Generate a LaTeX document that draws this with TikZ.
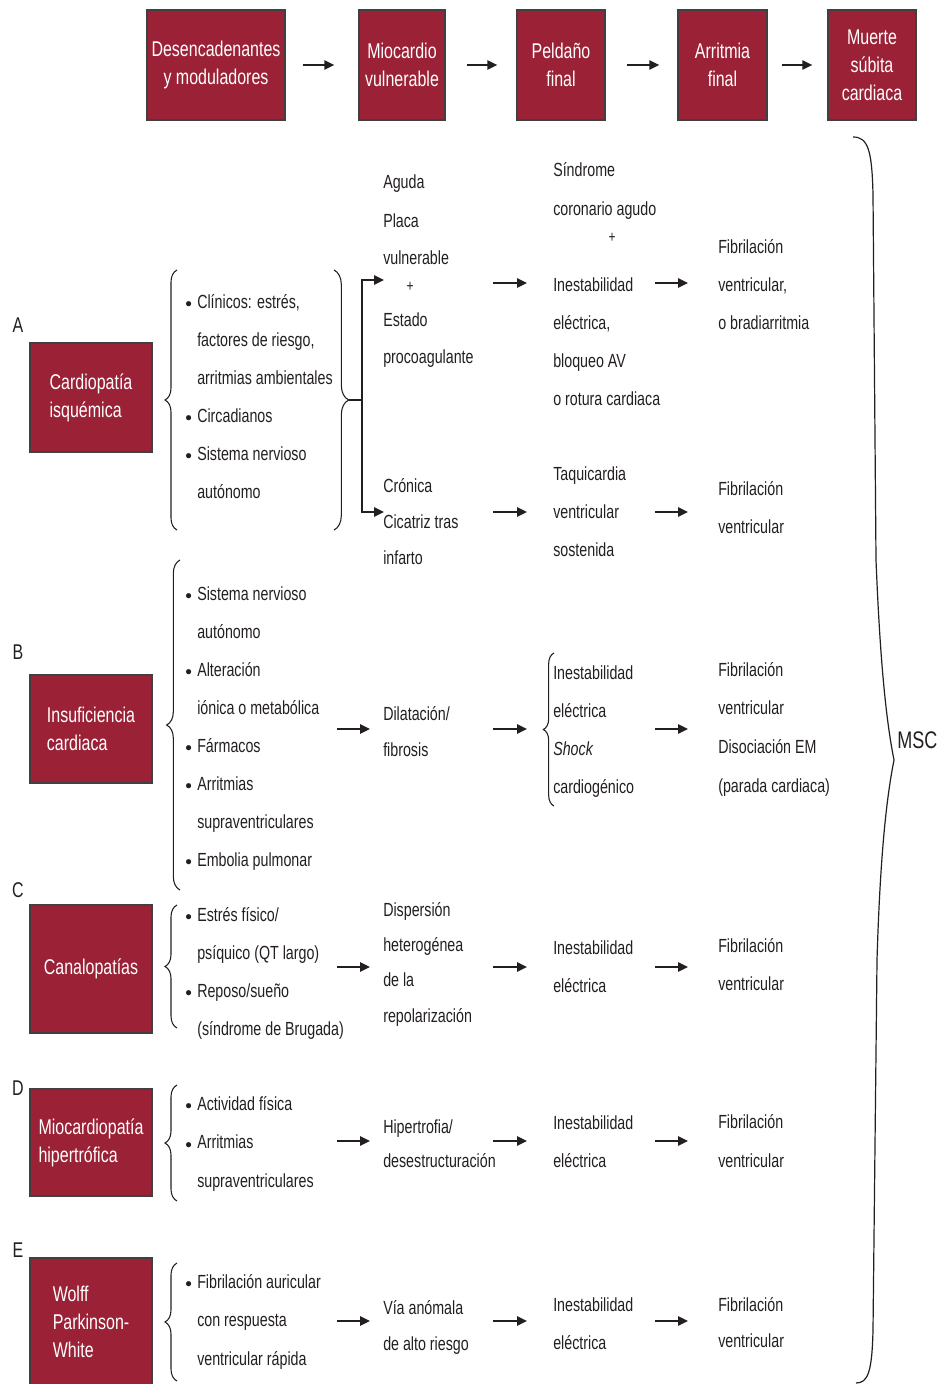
\documentclass[tikz,border=0pt]{standalone}
\usepackage{fontspec}
\setmainfont{Liberation Sans}[FakeStretch=0.75]
\usetikzlibrary{arrows.meta,decorations.pathreplacing}
\definecolor{boxred}{RGB}{155,34,54}
\definecolor{ink}{RGB}{35,31,32}
\newcommand\Lines[2][28.5pt]{{\fontsize{14.25pt}{#1}\selectfont\begin{tabular}[t]{@{}l@{}}#2\end{tabular}}}
\newcommand\Blist[2][28.5pt]{{\fontsize{14.25pt}{#1}\selectfont\begin{tabular}[t]{@{}p{9pt}@{}l@{}}#2\end{tabular}}}
\newcommand\bul{\raisebox{0.3pt}{\fontsize{10pt}{10pt}\selectfont$\bullet$}}
\begin{document}
\begin{tikzpicture}[x=0.75pt,y=-0.75pt,
  txt/.style={anchor=base west,inner sep=0pt,text=ink},
  plus/.style={inner sep=0pt,text=ink,font=\fontsize{12pt}{12pt}\selectfont},
  hbox/.style={draw=black!75,line width=1pt,fill=boxred,text=white,inner sep=0pt,
    align=center,minimum height=82.5pt,font=\fontsize{16pt}{21pt}\selectfont},
  sbox/.style={draw=black!75,line width=1pt,fill=boxred,text=white,inner sep=0pt,
    align=left,minimum width=91.5pt,font=\fontsize{16pt}{21pt}\selectfont},
  letter/.style={inner sep=0pt,text=ink,font=\fontsize{16pt}{16pt}\selectfont},
  arr/.style={draw=ink,line width=1.2pt,-{Triangle[length=7.5pt,width=7pt]}},
  brc/.style={draw=ink,line width=0.8pt,decorate,decoration={brace,amplitude=#1}},
  brc/.default=10pt]
\useasboundingbox (0,0) rectangle (943,1384);

% ---------- header ----------
\node[hbox,minimum width=103.5pt] (h1) at (216,65) {Desencadenantes\\y moduladores};
\node[hbox,minimum width=64.5pt] (h2) at (402,65) {Miocardio\\vulnerable};
\node[hbox,minimum width=66pt] (h3) at (561,65) {Peldaño\\final};
\node[hbox,minimum width=66.75pt] (h4) at (722.5,65) {Arritmia\\final};
\node[hbox,minimum width=66pt] (h5) at (872,65) {Muerte\\súbita\\cardiaca};
\draw[arr] ([xshift=12.75pt]h1.east) -- ([xshift=-18pt]h2.west);
\draw[arr] ([xshift=15.75pt]h2.east) -- ([xshift=-14.25pt]h3.west);
\draw[arr] ([xshift=15.75pt]h3.east) -- ([xshift=-13.5pt]h4.west);
\draw[arr] ([xshift=10.5pt]h4.east) -- ([xshift=-11.25pt]h5.west);

% ---------- side boxes ----------
\node[letter] (lA) at (18,325) {A};
\node[letter] (lB) at (18,652) {B};
\node[letter] (lC) at (18,890) {C};
\node[letter] (lD) at (18,1088) {D};
\node[letter] (lE) at (18,1250) {E};
\node[sbox,minimum height=81.75pt] (bA) at (91,397.5) {Cardiopatía\\isquémica};
\node[sbox,minimum height=81pt] (bB) at (91,729) {Insuficiencia\\cardiaca};
\node[sbox,minimum height=96pt] (bC) at (91,969) {Canalopatías};
\node[sbox,minimum height=80.25pt] (bD) at (91,1142.5) {Miocardiopatía\\hipertrófica};
\node[sbox,minimum height=96pt] (bE) at (91,1322) {Wolff\\Parkinson-\\White};

% ---------- A ----------
\node[txt] (a1) at (185,308) {\Blist{\bul & Clínicos: estrés,\\ & factores de riesgo,\\ & arritmias ambientales\\ \bul & Circadianos\\ \bul & Sistema nervioso\\ & autónomo}};
\draw[brc=9pt] (177,530) -- (177,270);
\draw[brc=11pt] (334,270) -- (334,530);
\node[txt] (a2a) at (383,189) {\Lines{Aguda\\Placa\\vulnerable}};
\node[plus] (a2p) at (410,287) {+};
\node[txt] (a2b) at (383,326) {\Lines[27.75pt]{Estado\\procoagulante}};
\node[txt] (a2c) at (383,492) {\Lines[27pt]{Crónica\\Cicatriz tras\\infarto}};
\node[txt] (a3a) at (553,176) {\Lines[29.25pt]{Síndrome\\coronario agudo}};
\node[plus] (a3p) at (612,238) {+};
\node[txt] (a3b) at (553,291) {\Lines{Inestabilidad\\eléctrica,\\bloqueo AV\\o rotura cardiaca}};
\node[txt] (a3c) at (553,480) {\Lines{Taquicardia\\ventricular\\sostenida}};
\node[txt] (a4a) at (718,253) {\Lines{Fibrilación\\ventricular,\\o bradiarritmia}};
\node[txt] (a4b) at (718,495) {\Lines{Fibrilación\\ventricular}};
\coordinate (atip) at (349,400);
\coordinate (ajn) at (362,400);
\coordinate (aj1) at (362,280);
\coordinate (aj2) at (362,512);
\coordinate (ae1) at (384,280);
\coordinate (ae2) at (384,512);
\draw[draw=ink,line width=1.2pt] (atip) -- (ajn);
\draw[arr] (ajn) -- (aj1) -- (ae1);
\draw[arr] (ajn) -- (aj2) -- (ae2);

% ---------- B ----------
\node[txt] (b1) at (185,600) {\Blist{\bul & Sistema nervioso\\ & autónomo\\ \bul & Alteración\\ & iónica o metabólica\\ \bul & Fármacos\\ \bul & Arritmias\\ & supraventriculares\\ \bul & Embolia pulmonar}};
\draw[brc=10pt] (180,890) -- (180,560);
\node[txt] (b2) at (383,720) {\Lines[27pt]{Dilatación/\\fibrosis}};
\node[txt] (b3) at (553,679) {\Lines{Inestabilidad\\eléctrica\\\textit{Shock}\\cardiogénico}};
\draw[brc=8pt] (554,806) -- (554,653);
\node[txt] (b4) at (718,676) {\Lines[29pt]{Fibrilación\\ventricular\\Disociación EM\\(parada cardiaca)}};

% ---------- C ----------
\node[txt] (c1) at (185,921) {\Blist{\bul & Estrés físico/\\ & psíquico (QT largo)\\ \bul & Reposo/sueño\\ & (síndrome de Brugada)}};
\draw[brc=9pt] (177,1028) -- (177,905);
\node[txt] (c2) at (383,916) {\Lines[26.5pt]{Dispersión\\heterogénea\\de la\\repolarización}};
\node[txt] (c3) at (553,954) {\Lines{Inestabilidad\\eléctrica}};
\node[txt] (c4) at (718,952) {\Lines{Fibrilación\\ventricular}};

% ---------- D ----------
\node[txt] (d1) at (185,1110) {\Blist[29pt]{\bul & Actividad física\\ \bul & Arritmias\\ & supraventriculares}};
\draw[brc=9pt] (177,1201) -- (177,1085);
\node[txt] (d2) at (383,1133) {\Lines[25.5pt]{Hipertrofia/\\desestructuración}};
\node[txt] (d3) at (553,1129) {\Lines{Inestabilidad\\eléctrica}};
\node[txt] (d4) at (718,1128) {\Lines[29.25pt]{Fibrilación\\ventricular}};

% ---------- E ----------
\node[txt] (e1) at (185,1288) {\Blist[29pt]{\bul & Fibrilación auricular\\ & con respuesta\\ & ventricular rápida}};
\draw[brc=9pt] (177,1381) -- (177,1263);
\node[txt] (e2) at (383,1314) {\Lines[27pt]{Vía anómala\\de alto riesgo}};
\node[txt] (e3) at (553,1311) {\Lines{Inestabilidad\\eléctrica}};
\node[txt] (e4) at (718,1311) {\Lines[27pt]{Fibrilación\\ventricular}};

% ---------- row arrows ----------
\foreach \n/\y in {aA/283,aC/512,b/729,c/967,d/1141,e/1321}{
  \coordinate (\n-s1) at (337,\y);
  \coordinate (\n-t1) at (370,\y);
  \coordinate (\n-s2) at (493,\y);
  \coordinate (\n-t2) at (527,\y);
  \coordinate (\n-s3) at (655,\y);
  \coordinate (\n-t3) at (688,\y);
}
\foreach \n in {b,c,d,e}{\draw[arr] (\n-s1) -- (\n-t1);}
\foreach \n in {aA,aC,b,c,d,e}{
  \draw[arr] (\n-s2) -- (\n-t2);
  \draw[arr] (\n-s3) -- (\n-t3);
}

% ---------- big brace ----------
\draw[draw=ink,line width=0.9pt] (853,137) .. controls (868,137) and (872,150) .. (873,195)
  -- (876,560) .. controls (880,660) and (886,720) .. (894,760)
  .. controls (886,800) and (880,860) .. (877,960)
  -- (873,1330) .. controls (872,1372) and (868,1383) .. (856,1383);
\node[anchor=west,inner sep=0pt,text=ink,font=\fontsize{18pt}{18pt}\selectfont] (msc) at (897,740) {MSC};
\end{tikzpicture}
\end{document}
